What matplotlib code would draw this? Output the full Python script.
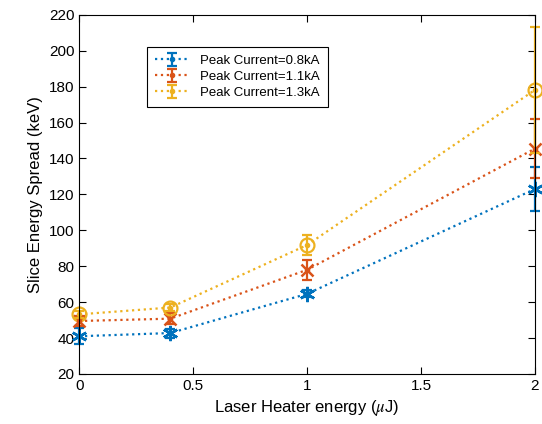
import matplotlib
matplotlib.use("Agg")
import matplotlib.pyplot as plt

plt.rcParams['font.family'] = ['Liberation Sans', 'DejaVu Sans']
plt.rcParams['mathtext.fontset'] = 'stix'

energy = [0, 0.4, 1, 2]
labels = ['Peak Current=0.8kA', 'Peak Current=1.1kA', 'Peak Current=1.3kA']
spread_08 = [41, 42.8, 64.6, 123]
err_08 = [4.5, 2.5, 2, 12]
spread_11 = [49.5, 50.8, 78, 145.5]
err_11 = [3, 3, 5.5, 16.5]
spread_13 = [53.2, 57, 91.8, 178.2]
err_13 = [2, 2, 5.5, 35]
colors = ['#0072BD', '#D95319', '#EDB120']
markers = ['*', 'x', 'o']

fig = plt.figure(figsize=(5.42, 4.24), dpi=100)
ax = fig.add_axes([0.146, 0.118, 0.841, 0.847])

series = [(spread_08, err_08), (spread_11, err_11), (spread_13, err_13)]
for (y, e), c, m, lab in zip(series, colors, markers, labels):
    cont = ax.errorbar(energy, y, yerr=e, fmt='.:', color=c, lw=1.6, ms=6,
                       capsize=3.5, elinewidth=1.6, capthick=1.6, label=lab)
    for art in cont.lines[0:1] + tuple(cont.lines[1]) + tuple(cont.lines[2]):
        art.set_clip_on(False)
    if m == 'o':
        ax.plot(energy, y, ls='none', marker='o', ms=10, mfc='none', mec=c, mew=1.6, clip_on=False)
    elif m == '*':
        ax.plot(energy, y, ls='none', marker=(6, 2, 0), ms=11, mec=c, mew=1.8, clip_on=False)
    else:
        ax.plot(energy, y, ls='none', marker='x', ms=9, mec=c, mew=1.8, clip_on=False)

ax.set_xlim(0, 2)
ax.set_ylim(20, 220)
ax.set_xticks([0, 0.5, 1, 1.5, 2])
ax.set_xticklabels(['0', '0.5', '1', '1.5', '2'])
ax.set_yticks(range(20, 221, 20))
ax.tick_params(direction='in', top=True, right=True, labelsize=11, length=5, width=0.8)
for s in ax.spines.values():
    s.set_linewidth(0.8)
ax.set_xlabel(r'Laser Heater energy ($\mu$J)', fontsize=12)
ax.set_ylabel('Slice Energy Spread (keV)', fontsize=12)

leg = ax.legend(loc='upper left', bbox_to_anchor=(0.135, 0.93), fontsize=9.5,
                fancybox=False, edgecolor='black', framealpha=1,
                handlelength=2.6, borderpad=0.6, labelspacing=0.3)
leg.get_frame().set_linewidth(0.8)

fig.savefig('out.png', dpi=100)
